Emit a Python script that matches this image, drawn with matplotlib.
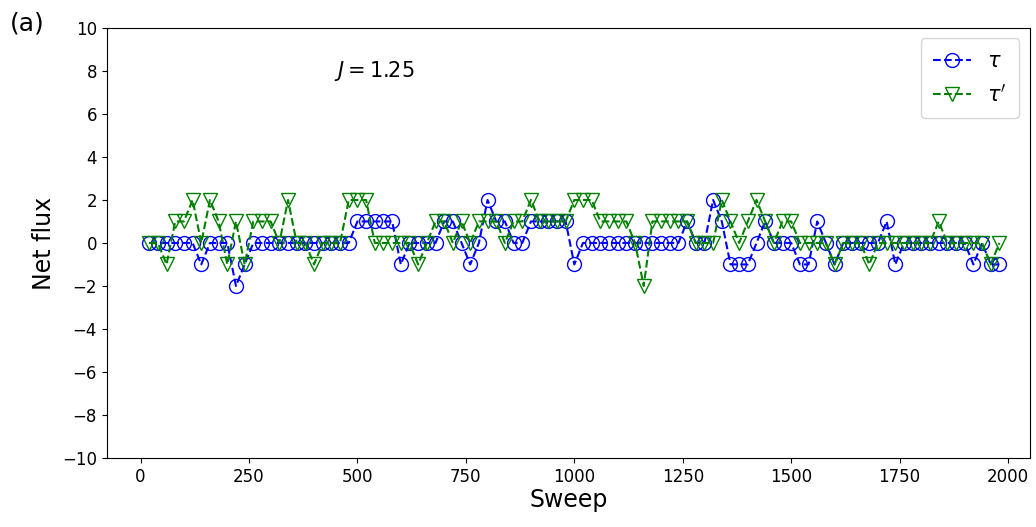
import matplotlib
matplotlib.use("Agg")
import matplotlib.pyplot as plt
import numpy as np

# sweeps sampled every 20 steps
sweeps = np.arange(20, 2000, 20)

# net flux for tau (blue circles)
tau = [0, 0, 0, 0, 0, 0, -1, 0, 0, 0,
       -2, -1, 0, 0, 0, 0, 0, 0, 0, 0,
       0, 0, 0, 0, 1, 1, 1, 1, 1, -1,
       0, 0, 0, 0, 1, 1, 0, -1, 0, 2,
       1, 1, 0, 0, 1, 1, 1, 1, 1, -1,
       0, 0, 0, 0, 0, 0, 0, 0, 0, 0,
       0, 0, 1, 0, 0, 2, 1, -1, -1, -1,
       0, 1, 0, 0, 0, -1, -1, 1, 0, -1,
       0, 0, 0, 0, 0, 1, -1, 0, 0, 0,
       0, 0, 0, 0, 0, -1, 0, -1, -1]

# net flux for tau' (green triangles)
tau_p = [0, 0, -1, 1, 1, 2, 0, 2, 1, -1,
         1, -1, 1, 1, 1, 0, 2, 0, 0, -1,
         0, 0, 0, 2, 2, 2, 0, 0, 0, 0,
         0, -1, 0, 1, 1, 0, 1, 0, 1, 1,
         1, 0, 1, 1, 2, 1, 1, 1, 1, 2,
         2, 2, 1, 1, 1, 1, 0, -2, 1, 1,
         1, 1, 1, 0, 0, 0, 2, 1, 0, 1,
         2, 1, 0, 1, 1, 0, 0, 0, 0, -1,
         0, 0, 0, -1, 0, 0, 0, 0, 0, 0,
         0, 1, 0, 0, 0, 0, 0, -1, 0]

fig = plt.figure(figsize=(10.36, 5.27), dpi=100)
ax = fig.add_axes([0.103, 0.131, 0.891, 0.816])

ax.plot(sweeps, tau, 'o--', color='b', markerfacecolor='none',
        markersize=10, linewidth=1.5, label=r'$\tau$')
ax.plot(sweeps, tau_p, 'v--', color='g', markerfacecolor='none',
        markersize=10, linewidth=1.5, label=r"$\tau'$")

ax.set_xlim(-78, 2050)
ax.set_ylim(-10, 10)
ax.set_yticks(np.arange(-10, 11, 2))
ax.set_xticks(np.arange(0, 2001, 250))
ax.tick_params(labelsize=12)
ax.set_xlabel('Sweep', fontsize=17, labelpad=2)
ax.set_ylabel('Net flux', fontsize=17)

ax.text(447, 8, r'$J = 1.25$', fontsize=15, va='center')
ax.legend(loc='upper right', fontsize=15, handlelength=1.8,
          borderpad=0.6, labelspacing=0.6)
fig.text(0.01, 0.955, '(a)', fontsize=18, va='center')

fig.savefig('out.png', dpi=100)
